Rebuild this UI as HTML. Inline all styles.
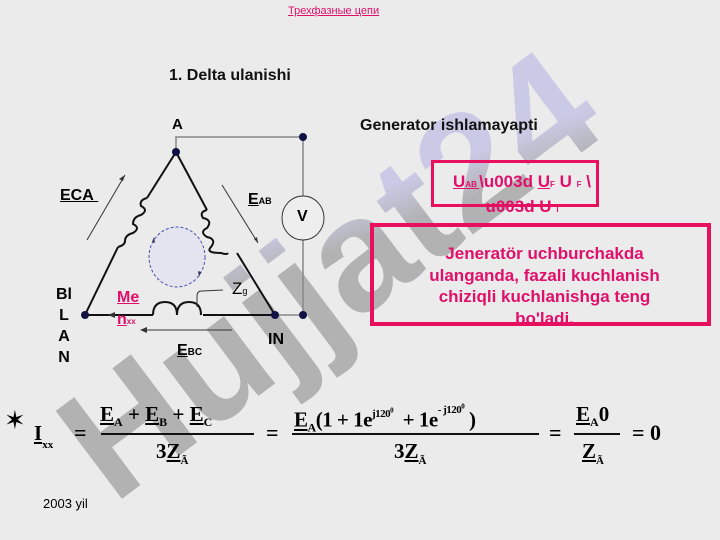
<!DOCTYPE html>
<html><head><meta charset="utf-8"><style>
html,body{margin:0;padding:0}
body{width:720px;height:540px;background:#ebebeb;position:relative;overflow:hidden;font-family:"Liberation Sans",sans-serif}
.a{position:absolute;white-space:nowrap}
.b{font-weight:bold}
.ser{font-family:"Liberation Serif",serif;font-weight:bold}
</style></head><body>
<svg class="a" style="left:0;top:0" width="720" height="540">
<defs><linearGradient id="g" x1="0" y1="1" x2="1" y2="0">
<stop offset="0.55" stop-color="#a4a4a4"/><stop offset="0.68" stop-color="#c4c2e6"/></linearGradient></defs>
<text x="362" y="318" transform="rotate(-37 362 318)" text-anchor="middle" font-family="Liberation Sans" font-weight="bold" font-size="160" fill="url(#g)" opacity="0.8">Hujjat24</text>
</svg>
<div class="a" style="left:288px;top:5px;font-size:11px;color:#e0106a;text-decoration:underline">Трехфазные цепи</div>
<div class="a b" style="left:169px;top:67px;font-size:16px;color:#111">1. Delta ulanishi</div>
<div class="a b" style="left:360px;top:117px;font-size:16px;color:#111">Generator ishlamayapti</div>
<svg class="a" style="left:0;top:0" width="720" height="540">
<g fill="none" stroke="#888" stroke-width="1.5"><path d="M176,151 L176,137 L303,137 L303,196 M303,240 L303,315 L275,315"/></g>
<g fill="none" stroke="#111" stroke-width="2">
<path d="M176,152 L147,198 M118,247 L85,315 L153,315 M203,315 L275,315 L237,253 M176,152 L207,210"/>
<path d="M147,198 q-8,2 -6,8 q8,4 0,9 q-8,2 -8,9 q8,4 0,9 q-8,2 -8,8 q0,4 -7,6"/>
<path d="M207,210 q-8,2 -4,8 q10,2 4,10 q-8,4 0,9 q10,2 4,10 q-6,6 10,6 q6,2 7,0"/>
<path d="M153,315 q0,-13 12,-13 q12,0 12,13 q0,-13 12,-13 q12,0 12,13"/>
</g>
<ellipse cx="303" cy="218" rx="21" ry="22" fill="#eee" stroke="#333" stroke-width="1"/>
<circle cx="176" cy="152" r="4" fill="#114"/><circle cx="303" cy="137" r="4" fill="#114"/>
<circle cx="85" cy="315" r="4" fill="#114"/><circle cx="275" cy="315" r="4" fill="#114"/><circle cx="303" cy="315" r="4" fill="#114"/>
<g stroke="#333" stroke-width="1" fill="none"><path d="M87,240 L125,175"/><path d="M222,185 L258,243"/><path d="M232,330 L146,330"/><path d="M197,307 L197,296 q0,-5 5,-5 L223,290"/></g>
<path d="M125,175 l-6,4 l4,2z M258,243 l-1,-6 l-3,2z M140,330 l7,-3 l0,6z M108,315 l7,-3 l0,6z" fill="#333"/>
<ellipse cx="177" cy="257" rx="28" ry="30" fill="#e4e4f0" stroke="#4455aa" stroke-width="1" stroke-dasharray="3,2"/>
<path d="M152,242 l2,-5 l1,6z M201,272 l-2,5 l-1,-6z" fill="#335"/>
</svg>
<div class="a b" style="left:172px;top:116px;font-size:15px">A</div>
<div class="a b" style="left:60px;top:187px;font-size:16px;text-decoration:underline">ECA&nbsp;</div>
<div class="a b" style="left:248px;top:191px;font-size:16px"><u>E</u><span style="font-size:9px">AB</span></div>
<div class="a b" style="left:297px;top:208px;font-size:16px">V</div>
<div class="a" style="left:232px;top:279px;font-size:17px">Z<span style="font-size:9px">g</span></div>
<div class="a b" style="left:56px;top:284px;font-size:16px;line-height:21px;text-align:center">Bl<br>L<br>A<br>N</div>
<div class="a b" style="left:117px;top:287px;font-size:16px;color:#e0106a;line-height:22px"><u>Me</u><br><u>n</u><span style="font-size:8px">xx</span></div>
<div class="a b" style="left:268px;top:331px;font-size:16px">IN</div>
<div class="a b" style="left:177px;top:342px;font-size:16px"><u>E</u><span style="font-size:10px">BC</span></div>
<div class="a" style="left:431px;top:160px;width:162px;height:41px;border:3px solid #e8105e"></div>
<div class="a b" style="left:437px;top:171px;font-size:17px;color:#e0106a;line-height:22px;text-align:center;width:170px"><u>U</u><span style="font-size:8px"><u>AB </u></span>\u003d <u>U</u><span style="font-size:8px">F</span> U <span style="font-size:8px">F</span> \<br>u003d U <span style="font-size:8px">l</span></div>
<div class="a" style="left:370px;top:223px;width:333px;height:95px;border:4px solid #e8105e"></div>
<div class="a b" style="left:378px;top:243px;width:333px;font-size:17px;color:#e0106a;text-align:center;line-height:21.5px">Jeneratör uchburchakda<br>ulanganda, fazali kuchlanish<br>chiziqli kuchlanishga teng<br>bo'ladi.</div>
<div class="a" style="left:4px;top:405px;font-size:26px">✶</div>
<div class="a ser" style="left:34px;top:421px;font-size:21px"><u>I</u><span style="font-size:11px;vertical-align:-8px">xx</span></div>
<div class="a ser" style="left:74px;top:420px;font-size:22px">=</div>
<div class="a ser" style="left:100px;top:402px;font-size:21px"><u>E</u><span style="font-size:12px;vertical-align:-5px">A</span> + <u>E</u><span style="font-size:12px;vertical-align:-5px">B</span> + <u>E</u><span style="font-size:12px;vertical-align:-5px">C</span></div>
<div class="a" style="left:101px;top:433px;width:153px;height:2px;background:#111"></div>
<div class="a ser" style="left:156px;top:439px;font-size:21px">3<u>Z</u><span style="font-size:11px;vertical-align:-6px">Ã</span></div>
<div class="a ser" style="left:266px;top:420px;font-size:22px">=</div>
<div class="a ser" style="left:294px;top:402px;font-size:21px;letter-spacing:-0.5px"><u>E</u><span style="font-size:12px;vertical-align:-5px">A</span>(1 + 1e<span style="font-size:11px;vertical-align:10px">j120<sup style="font-size:7px">0</sup></span> &nbsp;+ 1e<span style="font-size:11px;vertical-align:14px">- j120<sup style="font-size:7px">0</sup></span> )</div>
<div class="a" style="left:292px;top:433px;width:247px;height:2px;background:#111"></div>
<div class="a ser" style="left:394px;top:439px;font-size:21px">3<u>Z</u><span style="font-size:11px;vertical-align:-6px">Ã</span></div>
<div class="a ser" style="left:549px;top:420px;font-size:22px">=</div>
<div class="a ser" style="left:576px;top:402px;font-size:21px"><u>E</u><span style="font-size:12px;vertical-align:-5px">A</span>0</div>
<div class="a" style="left:574px;top:433px;width:46px;height:2px;background:#111"></div>
<div class="a ser" style="left:582px;top:439px;font-size:21px"><u>Z</u><span style="font-size:11px;vertical-align:-6px">Ã</span></div>
<div class="a ser" style="left:632px;top:420px;font-size:22px">= 0</div>
<div class="a" style="left:43px;top:496px;font-size:13px">2003 yil</div>
</body></html>
